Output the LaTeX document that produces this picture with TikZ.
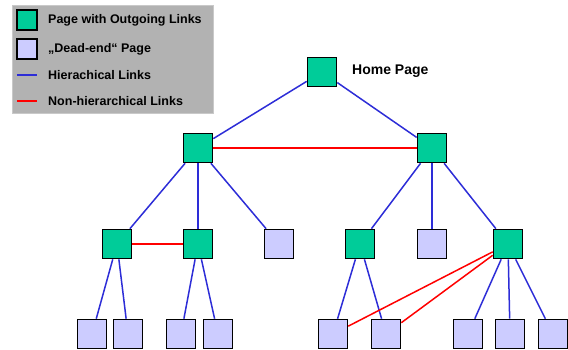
\documentclass[tikz,border=0pt]{standalone}
\usepackage{fontspec}
\setmainfont{Liberation Sans}
\definecolor{pagegreen}{RGB}{0,204,153}
\definecolor{deadlilac}{RGB}{204,204,255}
\definecolor{linkblue}{RGB}{45,45,215}
\definecolor{legendgray}{RGB}{178,178,178}

\begin{document}
\begin{tikzpicture}[x=1pt,y=-1pt,
    page/.style={draw=black, line width=1.6pt, fill=pagegreen, minimum size=29pt, inner sep=0pt},
    deadend/.style={page, fill=deadlilac},
    hier/.style={draw=linkblue, line width=1.5pt},
    nonhier/.style={draw=red, line width=1.5pt},
    label/.style={font=\bfseries\fontsize{12.5}{14}\selectfont, anchor=west, inner sep=0pt}]

    \useasboundingbox (0,0) rectangle (568,349);

    % legend
    \draw[fill=legendgray, draw=legendgray!70] (12,5) rectangle (213,113);
    \node[page, minimum size=20pt] (keypage) at (27,20) {};
    \node[deadend, minimum size=20pt] (keydead) at (27,49) {};
    \coordinate (keyhA) at (17,75);
    \coordinate (keyhB) at (37,75);
    \coordinate (keynA) at (17,101);
    \coordinate (keynB) at (37,101);
    \draw[hier] (keyhA) -- (keyhB);
    \draw[nonhier] (keynA) -- (keynB);
    \node[label] (txtpage) at (48,20) {Page with Outgoing Links};
    \node[label] (txtdead) at (48,49) {„Dead-end“ Page};
    \node[label] (txthier) at (48,75) {Hierachical Links};
    \node[label] (txtnon) at (48,101) {Non-hierarchical Links};

    % pages
    \node[page] (home) at (322,72) {};
    \node[label, font=\bfseries\fontsize{14}{16}\selectfont] (homelabel) at (352,71) {Home Page};

    \node[page] (A) at (198,148) {};
    \node[page] (B) at (432,148) {};

    \foreach \n/\x in {1/117,2/198,4/360,6/508}{
            \node[page] (L\n) at (\x,244) {};
        }
    \foreach \n/\x in {3/279,5/432}{
            \node[deadend] (L\n) at (\x,244) {};
        }

    \foreach \n/\x in {1/92,2/128,3/181,4/218,5/333,6/386,7/468,8/510,9/553}{
            \node[deadend] (E\n) at (\x,334) {};
        }

    % hierarchical links
    \foreach \a/\b in {home/A,home/B,A/L1,A/L2,A/L3,B/L4,B/L5,B/L6,
                       L1/E1,L1/E2,L2/E3,L2/E4,L4/E5,L4/E6,L6/E7,L6/E8,L6/E9}
				\draw[hier] (\a) -- (\b);

    % non-hierarchical links
    \foreach \a/\b in {A/B,L1/L2,L6/E5,L6/E6}
				\draw[nonhier] (\a) -- (\b);

\end{tikzpicture}
\end{document}
